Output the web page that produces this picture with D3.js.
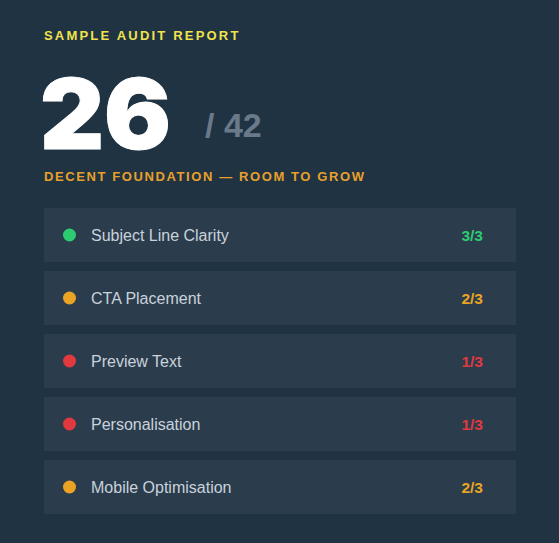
<!DOCTYPE html>
<html>
<head>
<meta charset="utf-8">
<script src="https://cdn.jsdelivr.net/npm/d3@7"></script>
<style>
  html, body { margin: 0; padding: 0; background: #1f3343; }
  svg { display: block; }
</style>
</head>
<body>
<div id="card"></div>
<script>
// audit numbers
let title = "SAMPLE AUDIT REPORT";
let totalScore = 26;
let maxScore = 42;
let verdict = "DECENT FOUNDATION \u2014 ROOM TO GROW";

let checks = ["Subject Line Clarity", "CTA Placement", "Preview Text", "Personalisation", "Mobile Optimisation"];
let scores = [3, 2, 1, 1, 2];
let outOf = [3, 3, 3, 3, 3];

const width = 559, height = 543;
const font = "'Liberation Sans', Arial, sans-serif";

const svg = d3.select("#card").append("svg")
    .attr("width", width)
    .attr("height", height);

svg.append("rect")
    .attr("width", width)
    .attr("height", height)
    .attr("fill", "#1f3343");

// header
svg.append("text")
    .attr("x", 44)
    .attr("y", 40)
    .text(title)
    .style("font-family", font)
    .style("font-weight", "bold")
    .style("font-size", "13px")
    .style("letter-spacing", "2.2px")
    .style("fill", "#f2e24c");

svg.append("text")
    .attr("x", 40)
    .attr("y", 148.5)
    .attr("textLength", 131)
    .attr("lengthAdjust", "spacingAndGlyphs")
    .text(totalScore)
    .style("font-family", "Inter, " + font)
    .style("font-weight", "900")
    .style("font-size", "97px")
    .style("fill", "#ffffff")
    .style("stroke", "#ffffff")
    .style("stroke-width", "1px");

svg.append("text")
    .attr("x", 205)
    .attr("y", 136.5)
    .text("/ " + maxScore)
    .style("font-family", font)
    .style("font-weight", "bold")
    .style("font-size", "34px")
    .style("fill", "#6b7a8a");

svg.append("text")
    .attr("x", 44)
    .attr("y", 181)
    .text(verdict)
    .style("font-family", font)
    .style("font-weight", "bold")
    .style("font-size", "13px")
    .style("letter-spacing", "1.6px")
    .style("fill", "#e9a02a");

// rows
const y = d3.scaleBand()
    .domain(checks)
    .range([208, 514])
    .paddingInner(9 / 63);

const color = d3.scaleOrdinal()
    .domain([3, 2, 1])
    .range(["#2ecc71", "#eaa322", "#e0393e"]);

const rows = svg.selectAll("g.row")
    .data(checks.map((c, i) => ({ name: c, score: scores[i], max: outOf[i] })))
    .enter()
    .append("g")
    .attr("class", "row")
    .attr("transform", d => `translate(0,${y(d.name)})`);

rows.append("rect")
    .attr("x", 44)
    .attr("width", 472)
    .attr("height", y.bandwidth())
    .attr("fill", "#2b3d4d");

rows.append("circle")
    .attr("cx", 69.5)
    .attr("cy", y.bandwidth() / 2)
    .attr("r", 6.5)
    .attr("fill", d => color(d.score));

rows.append("text")
    .attr("x", 91)
    .attr("y", y.bandwidth() / 2 + 5.7)
    .text(d => d.name)
    .style("font-family", font)
    .style("font-size", "16px")
    .style("fill", "#c9d2db");

rows.append("text")
    .attr("x", 483)
    .attr("y", y.bandwidth() / 2 + 5.7)
    .attr("text-anchor", "end")
    .text(d => d.score + "/" + d.max)
    .style("font-family", font)
    .style("font-weight", "bold")
    .style("font-size", "15.5px")
    .style("fill", d => color(d.score));
</script>
</body>
</html>
